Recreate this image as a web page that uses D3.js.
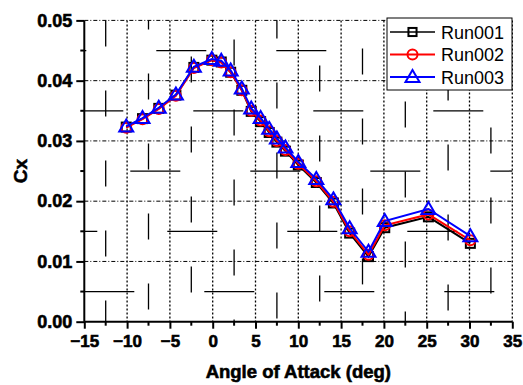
<!DOCTYPE html>
<html><head><meta charset="utf-8">
<script src="https://d3js.org/d3.v7.min.js"></script>
<style>body{margin:0;background:#fff}svg{display:block}text{font-family:"Liberation Sans",Arial,sans-serif}</style>
</head><body>
<svg id="c" width="523" height="385"></svg>
<script>
const angles = [-10.1,-8.2,-6.3,-4.3,-2.2,-0.1,1.0,2.1,3.4,4.5,5.6,6.6,7.5,8.5,10.0,12.1,14.1,16.0,18.2,20.1,25.2,30.1];
const run003 = [0.0324,0.0338,0.0355,0.0377,0.0423,0.0436,0.0433,0.0417,0.0387,0.0354,0.0338,0.0320,0.0304,0.0289,0.0265,0.0237,0.0203,0.0155,0.0116,0.0167,0.0187,0.0142];
const run002 = [0.0322,0.0336,0.0353,0.0375,0.0421,0.0434,0.0430,0.0414,0.0384,0.0350,0.0334,0.0316,0.0300,0.0285,0.0262,0.0233,0.0199,0.0150,0.0111,0.0160,0.0178,0.0135];
const run001 = [0.0323,0.0337,0.0354,0.0376,0.0422,0.0434,0.0431,0.0414,0.0384,0.0349,0.0332,0.0314,0.0298,0.0283,0.0260,0.0231,0.0197,0.0147,0.0108,0.0156,0.0174,0.0130];
const seriesNames = ["Run001","Run002","Run003"];
const xTicks = [-15,-10,-5,0,5,10,15,20,25,30,35];
const yTicks = [0,0.01,0.02,0.03,0.04,0.05];

const svg = d3.select("#c");
const x = d3.scaleLinear().domain([-15,35]).range([84.3,512.3]);
const y = d3.scaleLinear().domain([0,0.05]).range([321.7,20.4]);

// grid
const g = svg.append("g");
g.selectAll(".vg").data(xTicks.filter(d=>d>-15)).enter().append("line")
  .attr("x1",d=>x(d)).attr("x2",d=>x(d)).attr("y1",y(0.05)).attr("y2",y(0))
  .attr("stroke","#000").attr("stroke-width",1.3).attr("stroke-dasharray","2,2");
g.selectAll(".hg").data(yTicks.filter(d=>d>0)).enter().append("line")
  .attr("x1",x(-15)).attr("x2",x(35)).attr("y1",d=>y(d)).attr("y2",d=>y(d))
  .attr("stroke","#000").attr("stroke-width",1).attr("stroke-dasharray","4,2,1,2");
const minorX = d3.range(-12.5,35,5);
const minorY = d3.range(0.005,0.05,0.01);
g.selectAll(".mvg").data(minorX).enter().append("line")
  .attr("x1",d=>x(d)).attr("x2",d=>x(d)).attr("y1",y(0.05)).attr("y2",y(0))
  .attr("stroke","#000").attr("stroke-width",1.3).attr("stroke-dasharray","26,44")
  .attr("stroke-dashoffset",(d,i)=>(i*17)%60);
g.selectAll(".mhg").data(minorY).enter().append("line")
  .attr("x1",x(-15)).attr("x2",x(35)).attr("y1",d=>y(d)).attr("y2",d=>y(d))
  .attr("stroke","#000").attr("stroke-width",1.3).attr("stroke-dasharray","50,70")
  .attr("stroke-dashoffset",(d,i)=>(i*37)%100);

// axes
const xAxis = d3.axisBottom(x).tickValues(xTicks).tickSize(7).tickPadding(6).tickFormat(d3.format("d"));
const yAxis = d3.axisLeft(y).tickValues(yTicks).tickSize(8).tickPadding(4).tickFormat(d3.format(".2f"));
const gx = svg.append("g").attr("transform",`translate(0,${y(0)})`).call(xAxis);
const gy = svg.append("g").attr("transform",`translate(${x(-15)},0)`).call(yAxis);
[gx,gy].forEach(a=>{
  a.select(".domain").attr("stroke","#000").attr("stroke-width",2);
  a.selectAll(".tick line").attr("stroke","#000").attr("stroke-width",2);
  a.selectAll("text").attr("fill","#000").attr("font-weight","bold")
    .attr("stroke","#000").attr("stroke-width",0.6)
    .attr("font-family","'Liberation Sans',Arial,sans-serif");
});
gx.selectAll("text").attr("font-size",17);
gy.selectAll("text").attr("font-size",18);
gx.select(".domain").attr("d",`M${x(-15)},0H${x(35)}`);
gy.select(".domain").attr("d",`M0,${y(0)}V${y(0.05)}`);
// minor ticks
svg.append("g").selectAll("line").data(minorX).enter().append("line")
  .attr("x1",d=>x(d)).attr("x2",d=>x(d)).attr("y1",y(0)).attr("y2",y(0)+4)
  .attr("stroke","#000").attr("stroke-width",2);
svg.append("g").selectAll("line").data(minorY).enter().append("line")
  .attr("x1",x(-15)-4).attr("x2",x(-15)).attr("y1",d=>y(d)).attr("y2",d=>y(d))
  .attr("stroke","#000").attr("stroke-width",2);

svg.append("text").attr("x",(x(-15)+x(35))/2).attr("y",378).attr("text-anchor","middle")
  .attr("font-size",18.5).attr("font-weight","bold").attr("stroke","#000").attr("stroke-width",0.6)
  .text("Angle of Attack (deg)");
svg.append("text").attr("transform",`translate(27,${(y(0)+y(0.05))/2}) rotate(-90)`).attr("text-anchor","middle")
  .attr("font-size",19).attr("font-weight","bold").attr("stroke","#000").attr("stroke-width",0.5).text("Cx");

// series
const colors = ["#000","#f00","#00f"];
const datasets = [run001,run002,run003];
const line = d3.line().x(d=>x(d[0])).y(d=>y(d[1]));
function marker(sel,i,cx,cy,scale){
  if(i===0) sel.append("rect").attr("x",cx-4.5*scale).attr("y",cy-4.5*scale).attr("width",9*scale).attr("height",9*scale)
      .attr("fill","none").attr("stroke",colors[i]).attr("stroke-width",2);
  else if(i===1) sel.append("circle").attr("cx",cx).attr("cy",cy).attr("r",5*scale)
      .attr("fill","none").attr("stroke",colors[i]).attr("stroke-width",2);
  else sel.append("path").attr("d",`M${cx},${cy-7*scale}L${cx+7*scale},${cy+5*scale}L${cx-7*scale},${cy+5*scale}Z`)
      .attr("fill","none").attr("stroke",colors[i]).attr("stroke-width",2);
}
datasets.forEach((ds,i)=>{
  const pts = angles.map((a,j)=>[a,ds[j]]);
  const sg = svg.append("g");
  sg.append("path").attr("d",line(pts)).attr("fill","none").attr("stroke",colors[i]).attr("stroke-width",2);
  pts.forEach(p=>marker(sg,i,x(p[0]),y(p[1]),1));
});

// legend
const lg = svg.append("g");
lg.append("rect").attr("x",387).attr("y",18).attr("width",125).attr("height",72)
  .attr("fill","#fff").attr("stroke","#000").attr("stroke-width",1);
seriesNames.forEach((n,i)=>{
  const ly = 32+i*22.5;
  lg.append("line").attr("x1",390).attr("x2",435).attr("y1",ly).attr("y2",ly).attr("stroke",colors[i]).attr("stroke-width",i===0?1.3:2);
  marker(lg,i,412.5,ly,i===0?0.9:1);
  lg.append("text").attr("x",441).attr("y",ly+6.5).attr("font-size",18).attr("fill","#000").text(n);
});
</script>
</body></html>
